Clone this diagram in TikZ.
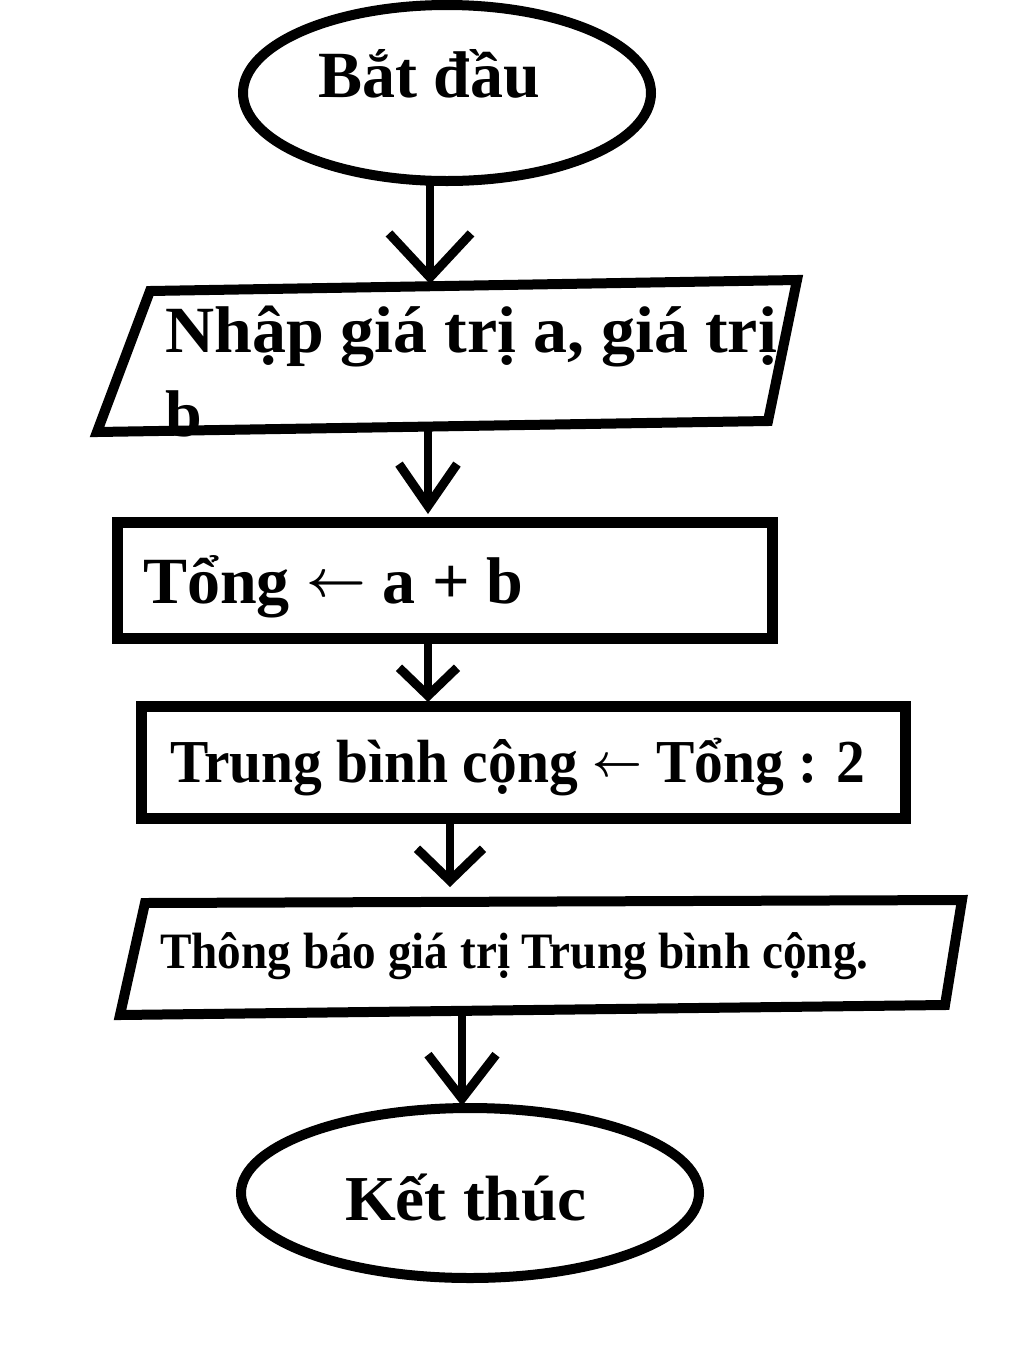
\documentclass[tikz,border=0pt]{standalone}
\usepackage{fontspec}
\setmainfont{Liberation Serif}
\usetikzlibrary{shapes.geometric,arrows.meta}
\tikzset{
  shapeline/.style={line width=10pt, line join=miter},
  boxline/.style={line width=11pt, line join=miter},
  flowarrow/.style={line width=8pt},
  lbl/.style={anchor=base west, inner sep=0pt, font=\bfseries},
}
\newcommand{\fsz}[1]{\fontsize{#1}{#1}\selectfont}
\newcommand{\larr}[2]{\raisebox{#2}{\scalebox{#1}{\fontsize{10}{10}\selectfont\boldmath$\leftarrow$}}}
\begin{document}
\begin{tikzpicture}[x=1pt,y=-1pt]
\useasboundingbox (0,0) rectangle (1024,1369);
\fill[white] (0,0) rectangle (1024,1369);

% start ellipse
\node[ellipse, draw, shapeline, minimum width=408pt, minimum height=176pt, inner sep=0pt] (start) at (447,93) {};
\node[lbl, font=\bfseries\fsz{66}] (tstart) at (318,97) {Bắt đầu};

% input parallelogram
\node[lbl, font=\bfseries\fsz{66}] (tin1) at (165,352) {\scalebox{1.03}[1]{Nhập giá trị a, giá trị}};
\node[lbl, font=\bfseries\fsz{66}] (tin2) at (165,436) {b};
\coordinate (p1a) at (150,291);
\coordinate (p1b) at (797,280);
\coordinate (p1c) at (768,421);
\coordinate (p1d) at (97,432);
\draw[shapeline] (p1a) -- (p1b) -- (p1c) -- (p1d) -- cycle;

% sum rectangle
\node[draw, boxline, minimum width=655pt, minimum height=116pt, inner sep=0pt] (sum) at (444.5,580) {};
\node[lbl, font=\bfseries\fsz{66}] (tsum) at (143,603) {Tổng \larr{5.2}{7pt} a + b};

% average rectangle
\node[draw, boxline, minimum width=764pt, minimum height=112pt, inner sep=0pt] (avg) at (523,762) {};
\node[lbl, font=\bfseries\fsz{61}] (tavg) at (170,782) {\scalebox{0.942}[1]{Trung bình cộng \larr{4.6}{5.5pt} Tổng : 2}};

% output parallelogram
\coordinate (p2a) at (145,903);
\coordinate (p2b) at (962,900);
\coordinate (p2c) at (945,1005);
\coordinate (p2d) at (120,1015);
\draw[shapeline] (p2a) -- (p2b) -- (p2c) -- (p2d) -- cycle;
\node[lbl, font=\bfseries\fsz{51}] (tout) at (160,968) {\scalebox{0.925}[1]{Thông báo giá trị Trung bình cộng.}};

% end ellipse
\node[ellipse, draw, shapeline, minimum width=458pt, minimum height=170pt, inner sep=0pt] (stop) at (470,1193) {};
\node[lbl, font=\bfseries\fsz{64}] (tstop) at (345,1220) {\scalebox{1.02}[1]{Kết thúc}};

% connectors
\coordinate (a1s) at (430,183);
\coordinate (a1e) at (430,284);
\coordinate (a2s) at (428,428);
\coordinate (a2e) at (428,514);
\coordinate (a3s) at (428,638);
\coordinate (a3e) at (428,702);
\coordinate (a4s) at (450,818);
\coordinate (a4e) at (450,887);
\coordinate (a5s) at (462,1010);
\coordinate (a5e) at (462,1106);
\draw[flowarrow, -{Straight Barb[length=44pt,width=82pt,line width=9pt]}] (a1s) -- (a1e);
\draw[flowarrow, -{Straight Barb[length=42pt,width=58pt,line width=9pt]}] (a2s) -- (a2e);
\draw[flowarrow, -{Straight Barb[length=28pt,width=58pt,line width=9pt]}] (a3s) -- (a3e);
\draw[flowarrow, -{Straight Barb[length=32pt,width=66pt,line width=9pt]}] (a4s) -- (a4e);
\draw[flowarrow, -{Straight Barb[length=44pt,width=68pt,line width=9pt]}] (a5s) -- (a5e);
\end{tikzpicture}
\end{document}
